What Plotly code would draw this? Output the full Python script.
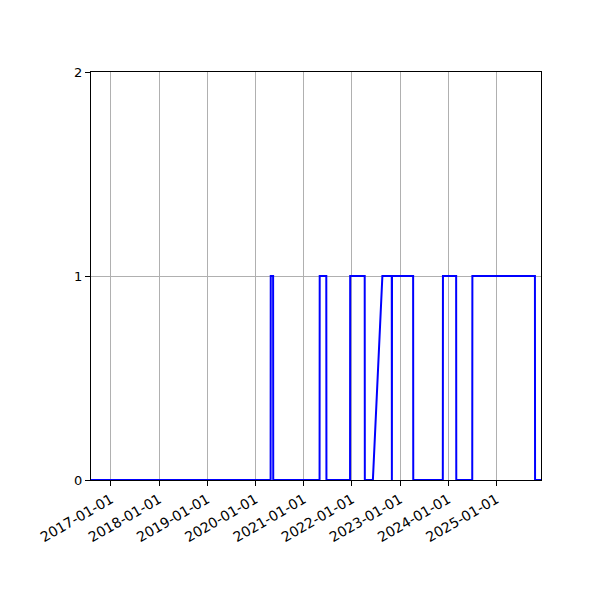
import plotly.graph_objects as go

dates = [
    "2016-08-03", "2020-04-25", "2020-04-26", "2020-05-14", "2020-05-15",
    "2021-05-01", "2021-05-02", "2021-06-21", "2021-06-22",
    "2021-12-18", "2021-12-19", "2022-04-08", "2022-04-09",
    "2022-06-09", "2022-08-20", "2022-10-30", "2022-10-31", "2022-11-01",
    "2023-04-10", "2023-04-11", "2023-11-21", "2023-11-22",
    "2024-03-01", "2024-03-02", "2024-07-01", "2024-07-02",
    "2025-10-19", "2025-10-20", "2025-12-04",
]
values = [
    0, 0, 1, 1, 0,
    0, 1, 1, 0,
    0, 1, 1, 0,
    0, 1, 1, 0, 1,
    1, 0, 0, 1,
    1, 0, 0, 1,
    1, 0, 0,
]
tick_dates = ["2017-01-01", "2018-01-01", "2019-01-01", "2020-01-01", "2021-01-01",
              "2022-01-01", "2023-01-01", "2024-01-01", "2025-01-01"]
y_ticks = [0, 1, 2]

fig = go.Figure()
fig.add_trace(go.Scatter(x=dates, y=values, mode="lines",
                         line=dict(color="blue", width=2), showlegend=False))

fig.update_layout(
    width=600, height=600,
    margin=dict(l=83, r=67, t=64, b=128),
    plot_bgcolor="white", paper_bgcolor="white",
    font=dict(family="DejaVu Sans", size=13, color="black"),
)
fig.update_xaxes(
    type="date", range=[dates[0], dates[-1]],
    tickvals=tick_dates, ticktext=tick_dates, tickangle=-30,
    tickfont=dict(size=14),
    showgrid=True, gridcolor="#b0b0b0", gridwidth=1,
    showline=True, linecolor="black", linewidth=1, mirror=True,
    ticks="outside", ticklen=5, tickcolor="black", zeroline=False,
)
fig.update_yaxes(
    range=[0, 2], tickvals=y_ticks,
    showgrid=True, gridcolor="#b0b0b0", gridwidth=1,
    showline=True, linecolor="black", linewidth=1, mirror=True,
    ticks="outside", ticklen=5, tickcolor="black", zeroline=False,
)
fig.write_html("out.html")
